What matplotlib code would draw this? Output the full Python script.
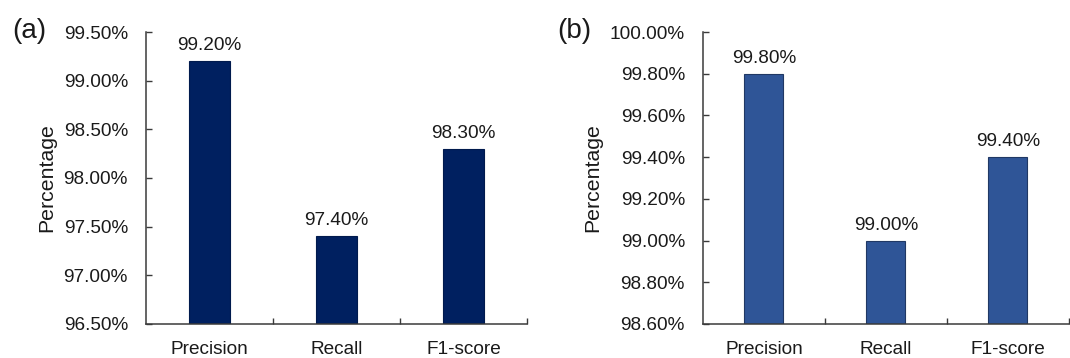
import numpy as np
import matplotlib.pyplot as plt
from matplotlib.ticker import FormatStrFormatter, FixedLocator

plt.rcParams['font.family'] = ['Liberation Sans', 'DejaVu Sans']

# metrics shown in both panels
metrics = ['Precision', 'Recall', 'F1-score']
scores_a = [99.20, 97.40, 98.30]
scores_b = [99.80, 99.00, 99.40]

yticks_a = [96.5, 97.0, 97.5, 98.0, 98.5, 99.0, 99.5]
yticks_b = [98.6, 98.8, 99.0, 99.2, 99.4, 99.6, 99.8, 100.0]

TXT = '#1a1a1a'
AX = '#3a3a3a'


def draw_panel(ax, values, yticks, color, edge, tag, ylab_x, tag_x):
    x = np.arange(len(metrics))
    ax.bar(x, values, width=0.32, color=color, edgecolor=edge, linewidth=0.8,
           bottom=0, zorder=2)
    ax.set_xlim(-0.5, len(metrics) - 0.5)
    ax.set_ylim(yticks[0], yticks[-1])

    for xi, v in zip(x, values):
        ax.annotate(f'{v:.2f}%', (xi, v), xytext=(0, 5), textcoords='offset points',
                    ha='center', va='bottom', fontsize=13.7, color=TXT)

    ax.set_yticks(yticks)
    ax.yaxis.set_major_formatter(FormatStrFormatter('%.2f%%'))
    ax.tick_params(axis='y', direction='in', length=4.5, width=1, color=AX,
                   pad=13, labelsize=13.7, labelcolor=TXT)

    ax.set_xticks(x)
    ax.set_xticklabels(metrics)
    ax.tick_params(axis='x', which='major', length=0, pad=12,
                   labelsize=13.7, labelcolor=TXT)
    ax.xaxis.set_minor_locator(FixedLocator([0.5, 1.5, 2.5]))
    ax.tick_params(axis='x', which='minor', direction='in', length=4, width=1, color=AX)

    for s in ('top', 'right'):
        ax.spines[s].set_visible(False)
    for s in ('left', 'bottom'):
        ax.spines[s].set_color(AX)
        ax.spines[s].set_linewidth(1.1)

    ax.set_ylabel('Percentage', fontsize=15.3, color=TXT)
    ax.yaxis.set_label_coords(ylab_x, 0.5)
    ax.figure.text(tag_x, 0.913, tag, fontsize=20, color=TXT, ha='center', va='center')


fig = plt.figure(figsize=(10.7, 3.58), dpi=100)
ax_a = fig.add_axes([0.1364, 0.095, 0.356, 0.8156])
ax_b = fig.add_axes([0.657, 0.095, 0.342, 0.8156])

draw_panel(ax_a, scores_a, yticks_a, '#002060', '#001a4d', '(a)', -0.236, 0.027)
draw_panel(ax_b, scores_b, yticks_b, '#2f5597', '#203864', '(b)', -0.274, 0.537)

fig.savefig('out.png', dpi=100, facecolor='white')
